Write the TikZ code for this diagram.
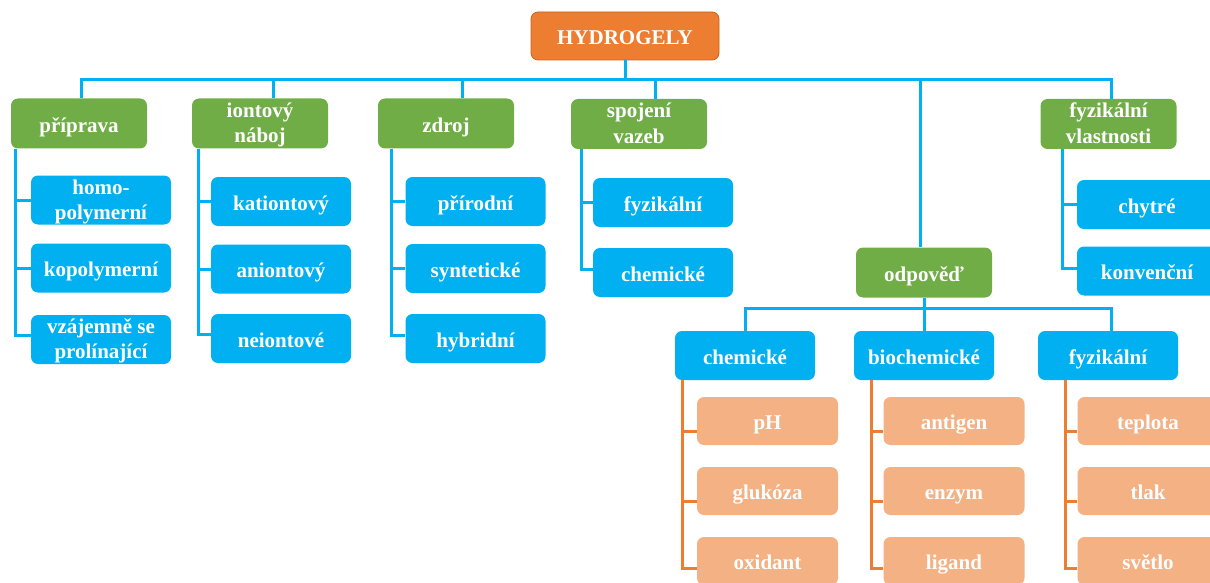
\documentclass[tikz,border=0pt]{standalone}
\usepackage{fontspec}
\setmainfont{Liberation Serif}
\definecolor{hgorange}{HTML}{ED7D31}
\definecolor{hgorangedark}{HTML}{C9631F}
\definecolor{hggreen}{HTML}{70AD47}
\definecolor{hgblue}{HTML}{00B0F0}
\definecolor{hgpeach}{HTML}{F4B183}

\begin{document}
\begin{tikzpicture}[x=1pt,y=-1pt,
	box/.style={rounded corners=7pt,text=white,font=\fontsize{21}{25}\selectfont\bfseries,align=center,inner sep=0pt,minimum height=49pt,text height=17pt,text depth=0pt},
	twoline/.style={text height=38pt,text depth=0pt},
	rootbox/.style={box,fill=hgorange,draw=hgorangedark,line width=0.8pt,minimum width=188pt,minimum height=48pt},
	groupbox/.style={box,fill=hggreen,minimum width=136pt,minimum height=50pt},
	itembox/.style={box,fill=hgblue,minimum width=140pt},
	leafbox/.style={box,fill=hgpeach,minimum width=141pt,minimum height=48pt},
	link/.style={draw=hgblue,line width=3pt},
	leaflink/.style={draw=hgorange,line width=3pt}]
			\clip (0,0) rectangle (1210,583);

			\node[rootbox] (root) at (625,36) {HYDROGELY};

			\node[groupbox] (prip) at (79,123.5) {příprava};
			\node[groupbox,twoline] (naboj) at (260,123.5) {iontový\\náboj};
			\node[groupbox] (zdroj) at (446,123.5) {zdroj};
			\node[groupbox,twoline] (vazby) at (639,124) {spojení\\vazeb};
			\node[groupbox,twoline] (vlast) at (1108.5,124) {fyzikální\\vlastnosti};
			\node[groupbox] (odp) at (924,272.5) {odpověď};

			\draw[link] ([xshift=2pt]prip.north) -- ++(0,-18.5) -| (root.south);
			\draw[link] ([xshift=13pt]naboj.north) -- ++(0,-18.5) -| (root.south);
			\draw[link] ([xshift=16pt]zdroj.north) -- ++(0,-18.5) -| (root.south);
			\draw[link] ([xshift=16pt]vazby.north) -- ++(0,-19) -| (root.south);
			\draw[link] ([xshift=2.5pt]vlast.north) -- ++(0,-19) -| (root.south);
			\draw[link] ([xshift=-4pt]odp.north) -- ++(0,-167.5) -| (root.south);

			% priprava
			\node[itembox,twoline] (prip1) at (101,200) {homo-\\polymerní};
			\node[itembox] (prip2) at (101,268) {kopolymerní};
			\node[itembox,twoline] (prip3) at (101,339.5) {vzájemně se\\prolínající};
			\draw[link] ([xshift=5pt]prip.south west) |- (prip1.west);
			\draw[link] ([xshift=5pt]prip.south west) |- (prip2.west);
			\draw[link] ([xshift=5pt]prip.south west) |- ([yshift=4pt]prip3.west);

			% iontovy naboj
			\node[itembox] (naboj1) at (281,201.5) {kationtový};
			\node[itembox] (naboj2) at (281,269) {aniontový};
			\node[itembox] (naboj3) at (281,338.5) {neiontové};
			\draw[link] ([xshift=7pt]naboj.south west) |- (naboj1.west);
			\draw[link] ([xshift=7pt]naboj.south west) |- (naboj2.west);
			\draw[link] ([xshift=7pt]naboj.south west) |- ([yshift=4pt]naboj3.west);

			% zdroj
			\node[itembox] (zdroj1) at (475.5,201.5) {přírodní};
			\node[itembox] (zdroj2) at (475.5,268.5) {syntetické};
			\node[itembox] (zdroj3) at (475.5,338.5) {hybridní};
			\draw[link] ([xshift=14pt]zdroj.south west) |- (zdroj1.west);
			\draw[link] ([xshift=14pt]zdroj.south west) |- (zdroj2.west);
			\draw[link] ([xshift=14pt]zdroj.south west) |- ([yshift=3pt]zdroj3.west);

			% spojeni vazeb
			\node[itembox] (vazby1) at (663,202.5) {fyzikální};
			\node[itembox] (vazby2) at (663,272.5) {chemické};
			\draw[link] ([xshift=11pt]vazby.south west) |- (vazby1.west);
			\draw[link] ([xshift=11pt]vazby.south west) |- ([yshift=3pt]vazby2.west);

			% fyzikalni vlastnosti
			\node[itembox] (vlast1) at (1147,204.5) {chytré};
			\node[itembox] (vlast2) at (1147,271) {konvenční};
			\draw[link] ([xshift=22pt]vlast.south west) |- (vlast1.west);
			\draw[link] ([xshift=22pt]vlast.south west) |- ([yshift=3pt]vlast2.west);

			% odpoved
			\node[itembox] (chem) at (745,355.5) {chemické};
			\node[itembox] (bio) at (924,355.5) {biochemické};
			\node[itembox] (fyz) at (1108,355.5) {fyzikální};
			\draw[link] (chem.north) -- ++(0,-22) -| (odp.south);
			\draw[link] (bio.north) -- (odp.south);
			\draw[link] ([xshift=3pt]fyz.north) -- ++(0,-22) -| (odp.south);

			\node[leafbox] (chem1) at (767.5,421) {pH};
			\node[leafbox] (chem2) at (767.5,491) {glukóza};
			\node[leafbox] (chem3) at (767.5,561) {oxidant};
			\draw[leaflink] ([xshift=8pt]chem.south west) |- ([yshift=-10pt]chem1.west);
			\draw[leaflink] ([xshift=8pt]chem.south west) |- ([yshift=-10pt]chem2.west);
			\draw[leaflink] ([xshift=8pt]chem.south west) |- ([yshift=-7pt]chem3.west);

			\node[leafbox] (bio1) at (954,421) {antigen};
			\node[leafbox] (bio2) at (954,491) {enzym};
			\node[leafbox] (bio3) at (954,561) {ligand};
			\draw[leaflink] ([xshift=18pt]bio.south west) |- ([yshift=-10pt]bio1.west);
			\draw[leaflink] ([xshift=18pt]bio.south west) |- ([yshift=-10pt]bio2.west);
			\draw[leaflink] ([xshift=18pt]bio.south west) |- ([yshift=-7pt]bio3.west);

			\node[leafbox] (fyz1) at (1148,421) {teplota};
			\node[leafbox] (fyz2) at (1148,491) {tlak};
			\node[leafbox] (fyz3) at (1148,561) {světlo};
			\draw[leaflink] ([xshift=28pt]fyz.south west) |- ([yshift=-10pt]fyz1.west);
			\draw[leaflink] ([xshift=28pt]fyz.south west) |- ([yshift=-10pt]fyz2.west);
			\draw[leaflink] ([xshift=28pt]fyz.south west) |- ([yshift=-7pt]fyz3.west);
		\end{tikzpicture}
\end{document}
